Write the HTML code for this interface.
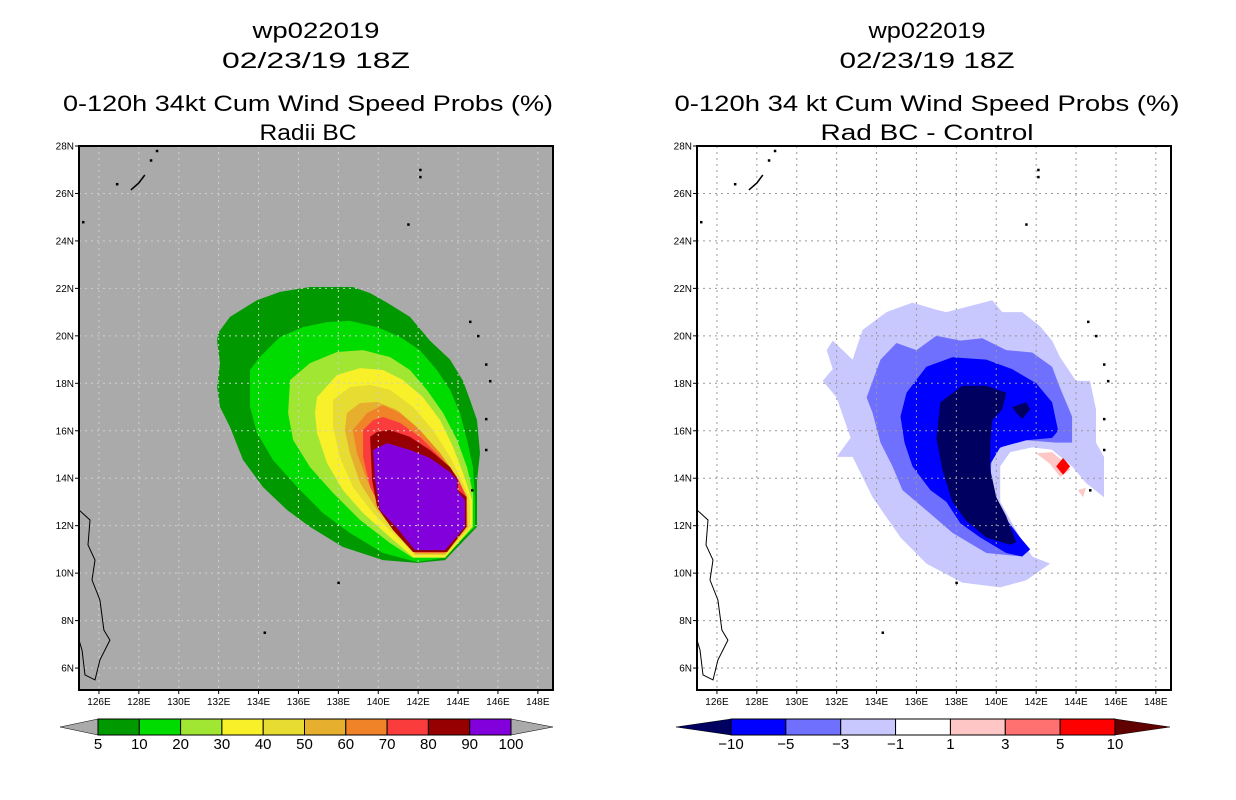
<!DOCTYPE html>
<html><head><meta charset="utf-8"><style>
html,body{margin:0;padding:0;background:#fff;}
svg{display:block;}
text{font-family:"Liberation Sans",sans-serif;fill:#000;}
</style></head><body>
<svg id="c" width="1236" height="800" viewBox="0 0 1236 800" xmlns="http://www.w3.org/2000/svg"></svg>
<script>
// ---------- data ----------
const lonTicks = [126,128,130,132,134,136,138,140,142,144,146,148];
const latTicks = [6,8,10,12,14,16,18,20,22,24,26,28];
const leftLevels = ['5','10','20','30','40','50','60','70','80','90','100'];
const leftColors = ['#009a00','#00dc00','#a0e632','#f8f028','#e6dc32','#e6af2d','#f08228','#fa3c3c','#960000','#8200dc'];
const rightLevels = ['\u221210','\u22125','\u22123','\u22121','1','3','5','10'];
const rightColors = ['#0000ff','#7070ff','#c8c8ff','#ffffff','#ffc6c6','#ff7070','#ff0000'];
// left contours (lon,lat pairs)
const p5 = [[131.97,20.12],[132.57,20.8],[133.92,21.5],[135.07,21.85],[136.58,22.06],[138.73,22.06],[139.59,21.8],[140.44,21.4],[141.59,20.8],[142.59,19.8],[143.6,19.0],[144.25,18.1],[144.6,17.3],[144.95,16.45],[145.1,15.06],[144.95,13.9],[144.95,11.95],[143.35,10.55],[141.94,10.43],[140.24,10.55],[138.23,11.1],[136.58,11.95],[135.43,12.66],[134.22,13.63],[133.22,14.77],[132.57,16.16],[132.07,17.0],[131.92,17.84],[132.07,18.85],[131.92,19.8]];
const p10 = [[133.57,18.56],[134.07,19.11],[135.07,19.95],[136.23,20.37],[137.43,20.58],[138.58,20.63],[139.94,20.37],[141.09,19.95],[142.09,19.4],[142.94,18.56],[143.6,17.72],[144.1,16.75],[144.45,15.61],[144.75,14.47],[144.85,13.08],[144.85,11.95],[143.25,10.64],[141.94,10.47],[140.24,10.85],[138.58,11.69],[137.23,12.53],[135.93,13.63],[134.72,14.77],[133.92,15.91],[133.57,17.0],[133.57,18.14]];
const p20 = [[135.58,18.14],[136.58,18.85],[137.93,19.32],[139.24,19.4],[140.59,19.11],[141.59,18.56],[142.44,17.72],[143.25,16.75],[143.95,15.61],[144.45,14.47],[144.75,13.38],[144.75,11.95],[143.35,10.64],[141.74,10.64],[140.59,11.27],[139.09,12.24],[137.73,13.38],[136.58,14.47],[135.73,15.61],[135.48,16.75]];
const p30 = [[136.93,17.42],[137.93,18.35],[139.09,18.64],[140.24,18.56],[141.24,18.14],[142.24,17.42],[143.1,16.45],[143.75,15.31],[144.25,14.22],[144.7,13.08],[144.7,11.95],[143.35,10.68],[141.74,10.68],[140.59,11.52],[139.24,12.53],[138.23,13.5],[137.43,14.64],[136.93,15.91],[136.83,16.75]];
const p40 = [[137.73,17.3],[138.58,17.84],[139.59,17.93],[140.59,17.72],[141.74,17.0],[142.74,16.03],[143.6,14.89],[144.25,13.8],[144.6,13.08],[144.6,11.95],[143.35,10.76],[141.84,10.76],[140.94,11.52],[139.74,12.53],[138.73,13.63],[138.08,14.89],[137.73,16.16]];
const p50 = [[138.43,16.75],[139.09,17.17],[139.94,17.21],[140.94,16.88],[141.94,16.16],[142.94,15.19],[143.75,14.22],[144.45,13.21],[144.5,11.95],[143.35,10.8],[141.84,10.8],[140.94,11.69],[139.94,12.66],[139.09,13.8],[138.58,15.06],[138.33,16.03]];
const p60 = [[138.73,16.03],[139.44,16.75],[140.24,17.08],[141.09,16.75],[142.09,16.03],[143.1,15.06],[143.95,14.05],[144.45,13.21],[144.45,11.95],[143.35,10.85],[141.84,10.85],[140.94,11.82],[140.09,12.79],[139.44,13.92],[138.93,15.06]];
const p70 = [[139.24,16.03],[139.74,16.45],[140.24,16.58],[141.09,16.33],[142.09,15.74],[143.1,14.89],[143.95,14.05],[144.42,13.21],[144.42,11.95],[143.3,10.88],[141.9,10.88],[140.94,11.82],[140.19,12.66],[139.59,13.63],[139.24,14.89]];
const p80 = [[139.59,15.74],[139.94,15.95],[140.59,16.03],[141.59,15.74],[142.59,15.19],[143.6,14.47],[144.0,13.92],[144.0,13.5],[144.42,13.21],[144.42,11.95],[143.45,10.89],[141.74,10.89],[140.74,11.82],[139.94,12.79],[139.69,13.92]];
const p90 = [[139.74,15.19],[140.44,15.48],[141.59,15.19],[142.59,14.85],[143.6,14.26],[143.95,13.92],[143.95,13.5],[144.35,13.08],[144.35,11.95],[143.35,10.97],[141.84,10.97],[140.94,11.9],[140.09,12.66],[139.84,13.92]];
const leftContours = [p5,p10,p20,p30,p40,p50,p60,p70,p80,p90];
// right (difference) contours
const rLight = [[133.3,20.25],[134.5,21.0],[135.8,21.4],[137.0,21.1],[137.5,21.0],[139.8,21.5],[140.3,21.0],[141.3,21.0],[142.2,20.4],[142.8,19.8],[143.2,19.1],[144.0,18.1],[144.7,18.1],[145.0,16.9],[145.0,15.5],[145.4,14.9],[145.4,13.2],[144.5,13.8],[143.8,14.5],[142.8,15.2],[141.8,15.3],[140.7,15.1],[140.2,14.5],[140.2,13.0],[141.2,11.5],[141.8,10.7],[142.7,10.4],[141.5,9.7],[140.2,9.4],[138.3,9.6],[136.5,10.4],[135.2,11.5],[133.8,13.2],[132.8,14.9],[132.0,14.9],[132.7,15.7],[132.0,17.4],[131.3,18.1],[131.8,18.6],[131.5,19.4],[131.8,19.8],[132.8,19.0]];
const rMed = [[134.2,19.0],[135.0,19.7],[136.0,19.4],[137.0,20.0],[138.2,19.8],[139.3,19.9],[140.5,19.4],[141.8,19.3],[142.8,18.7],[143.2,17.8],[143.8,16.6],[143.8,15.5],[143.0,15.5],[141.5,15.6],[140.5,15.4],[139.8,15.1],[139.7,14.05],[139.8,13.0],[140.5,12.1],[141.5,11.0],[141.3,10.7],[139.5,10.85],[137.8,11.7],[136.7,12.5],[135.3,13.5],[134.8,14.5],[134.2,15.5],[133.8,16.75],[133.5,17.4]];
const rBlue = [[135.5,17.6],[136.5,18.7],[137.8,19.1],[139.5,19.0],[140.8,18.6],[142.0,18.0],[142.8,17.2],[143.1,16.0],[142.8,15.7],[141.5,15.6],[140.2,15.3],[139.7,14.6],[139.8,13.5],[140.3,12.5],[141.2,11.5],[141.7,11.0],[141.3,10.7],[140.5,10.85],[139.2,11.5],[138.2,12.1],[137.5,13.0],[136.7,13.5],[135.8,14.5],[135.4,15.5],[135.2,16.6]];
const rNavy = [[137.2,17.2],[138.3,17.9],[139.5,17.9],[140.5,17.6],[140.3,16.9],[139.8,16.45],[139.7,15.5],[139.7,14.35],[140.0,13.2],[140.5,12.4],[141.0,11.3],[140.7,11.2],[139.5,11.5],[138.5,12.2],[137.8,13.0],[137.3,14.35],[137.0,15.7]];
const rNavy2 = [[140.8,17.0],[141.5,17.2],[141.7,16.9],[141.3,16.5],[141.0,16.75]];
const rPink = [[142.0,15.05],[142.8,15.1],[143.5,14.6],[143.7,14.35],[143.2,14.05],[142.7,14.6]];
const rPink2 = [[144.1,13.5],[144.5,13.6],[144.35,13.2]];
const rRed = [[143.35,14.85],[143.7,14.5],[143.35,14.15],[143.0,14.5]];
// coastlines
const coastLuzon = [[125.0,12.66],[125.55,12.24],[125.45,11.19],[125.8,10.55],[125.65,9.71],[126.05,8.87],[126.25,7.6],[126.55,7.18],[126.05,6.34],[125.8,5.5],[125.3,5.71],[125.15,6.76],[125.0,7.18]];
const coastOkinawa = [[127.6,26.15],[128.0,26.44],[128.3,26.78]];
const islands = [[128.6,27.4],[128.9,27.8],[126.9,26.4],[125.2,24.8],[142.1,27.0],[142.1,26.7],[141.5,24.7],[144.6,20.6],[145.0,20.0],[145.4,18.8],[145.6,18.1],[145.4,16.5],[145.4,15.2],[144.7,13.5],[134.3,7.5],[138.0,9.6]];

// ---------- rendering ----------
const NS='http://www.w3.org/2000/svg';
const svg=document.getElementById('c');
const LON0=125, LAT0=28, PXD=19.95, PYD=23.73, W=474, H=544, TOP=146;
function mk(tag,attrs,parent){const e=document.createElementNS(NS,tag);for(const k in attrs)e.setAttribute(k,attrs[k]);(parent||svg).appendChild(e);return e;}
function xs(x0,lon){return x0+(lon-LON0)*PXD;}
function ys(lat){return TOP+(LAT0-lat)*PYD;}
function pts(x0,arr){return arr.map(p=>xs(x0,p[0]).toFixed(1)+','+ys(p[1]).toFixed(1)).join(' ');}

function drawMap(x0,bg,gridCol,name){
  const g=mk('g',{});
  
  
  const clip=mk('clipPath',{id:'clip'+name},g);
  mk('rect',{x:x0,y:TOP,width:W,height:H},clip);
  const bgr=mk('rect',{x:x0,y:TOP,width:W,height:H,fill:bg},g);
  
  
  const inner=mk('g',{'clip-path':'url(#clip'+name+')'},g);
  return {g,inner};
}
function gridAndAxes(m,x0,gridCol){
  lonTicks.forEach(lon=>{
    const x=xs(x0,lon);
    const l=mk('line',{x1:x,y1:TOP,x2:x,y2:TOP+H,stroke:gridCol,'stroke-width':1,'stroke-dasharray':'2,4'},m.inner);
    
    
    mk('line',{x1:x,y1:TOP+H,x2:x,y2:TOP+H+4,stroke:'#000','stroke-width':1},m.g);
    const t=mk('text',{x:x,y:TOP+H+15,'font-size':10,'text-anchor':'middle'},m.g);
    t.textContent=lon+'E';
    
    
  });
  latTicks.forEach(lat=>{
    const y=ys(lat);
    if(lat<28){
      const l=mk('line',{x1:x0,y1:y,x2:x0+W,y2:y,stroke:gridCol,'stroke-width':1,'stroke-dasharray':'2,4'},m.inner);
      
      
    }
    mk('line',{x1:x0-4,y1:y,x2:x0,y2:y,stroke:'#000','stroke-width':1},m.g);
    const t=mk('text',{x:x0-5,y:y+3.5,'font-size':10,'text-anchor':'end'},m.g);
    t.textContent=lat+'N';
    
    
  });
  const c1=mk('polyline',{points:pts(x0,coastLuzon),fill:'none',stroke:'#000','stroke-width':1},m.inner);
  
  
  const c2=mk('polyline',{points:pts(x0,coastOkinawa),fill:'none',stroke:'#000','stroke-width':1.5},m.inner);
  
  
  islands.forEach(p=>{
    const d=mk('rect',{x:xs(x0,p[0])-1,y:ys(p[1])-1,width:2.5,height:2.5,fill:'#000'},m.inner);
    
    
  });
  const fr=mk('rect',{x:x0,y:TOP,width:W,height:H,fill:'none',stroke:'#000','stroke-width':2},m.g);
  
  
}
function title(lines,cx,widths,name){
  const ys_=[38,68,111,140];
  lines.forEach((s,i)=>{
    const t=mk('text',{x:cx[i],y:ys_[i],'font-size':22,'text-anchor':'middle',textLength:widths[i],lengthAdjust:'spacingAndGlyphs'});
    t.textContent=s;
    
    
  });
}

// LEFT MAP
const L=79;
const mL=drawMap(L,'#aaaaaa','#cccccc','left-map');
leftContours.forEach((c,i)=>{
  const p=mk('polygon',{points:pts(L,c),fill:leftColors[i]},mL.inner);
  
  
});
gridAndAxes(mL,L,'#cfcfcf');
title(['wp022019','02/23/19 18Z','0-120h 34kt Cum Wind Speed Probs (%)','Radii BC'],[316,316,308,308],[127,188,490,97],'left-title');

// RIGHT MAP
const R=697;
const mR=drawMap(R,'#ffffff','#999','right-map');
[[rLight,'#c8c8ff','diff-minus1'],[rMed,'#7070ff','diff-minus3'],[rBlue,'#0000ff','diff-minus5'],[rNavy,'#000060','diff-minus10'],[rNavy2,'#000060','diff-minus10-b'],[rPink,'#ffc6c6','diff-plus1'],[rPink2,'#ffc6c6','diff-plus1-b'],[rRed,'#ff0000','diff-plus5']].forEach(a=>{
  const p=mk('polygon',{points:pts(R,a[0]),fill:a[1]},mR.inner);
  
  
});
gridAndAxes(mR,R,'#999');
title(['wp022019','02/23/19 18Z','0-120h 34 kt Cum Wind Speed Probs (%)','Rad BC - Control'],[927,927,927,927],[117,175,505,213],'right-title');

// COLORBARS
function colorbar(x0,x1,tipL,tipR,colors,labels,lc,rc,name){
  const g=mk('g',{});
  
  
  const y0=719,y1=735,ym=727,n=colors.length,w=(x1-x0)/n;
  mk('polygon',{points:`${tipL},${ym} ${x0},${y0} ${x0},${y1}`,fill:lc,stroke:'#000','stroke-width':0.5},g);
  mk('polygon',{points:`${tipR},${ym} ${x1},${y0} ${x1},${y1}`,fill:rc,stroke:'#000','stroke-width':0.5},g);
  colors.forEach((c,i)=>{
    const r=mk('rect',{x:x0+i*w,y:y0,width:w,height:y1-y0,fill:c,stroke:'#000','stroke-width':1},g);
    
    
  });
  labels.forEach((s,i)=>{
    const t=mk('text',{x:x0+i*w,y:749,'font-size':15,'text-anchor':'middle'},g);
    t.textContent=s;
    
    
  });
}
colorbar(98,511,60,553,leftColors,leftLevels,'#aaaaaa','#aaaaaa','left-colorbar');
colorbar(731,1115,676,1170,rightColors,rightLevels,'#000060','#600000','right-colorbar');
</script>
</body></html>
